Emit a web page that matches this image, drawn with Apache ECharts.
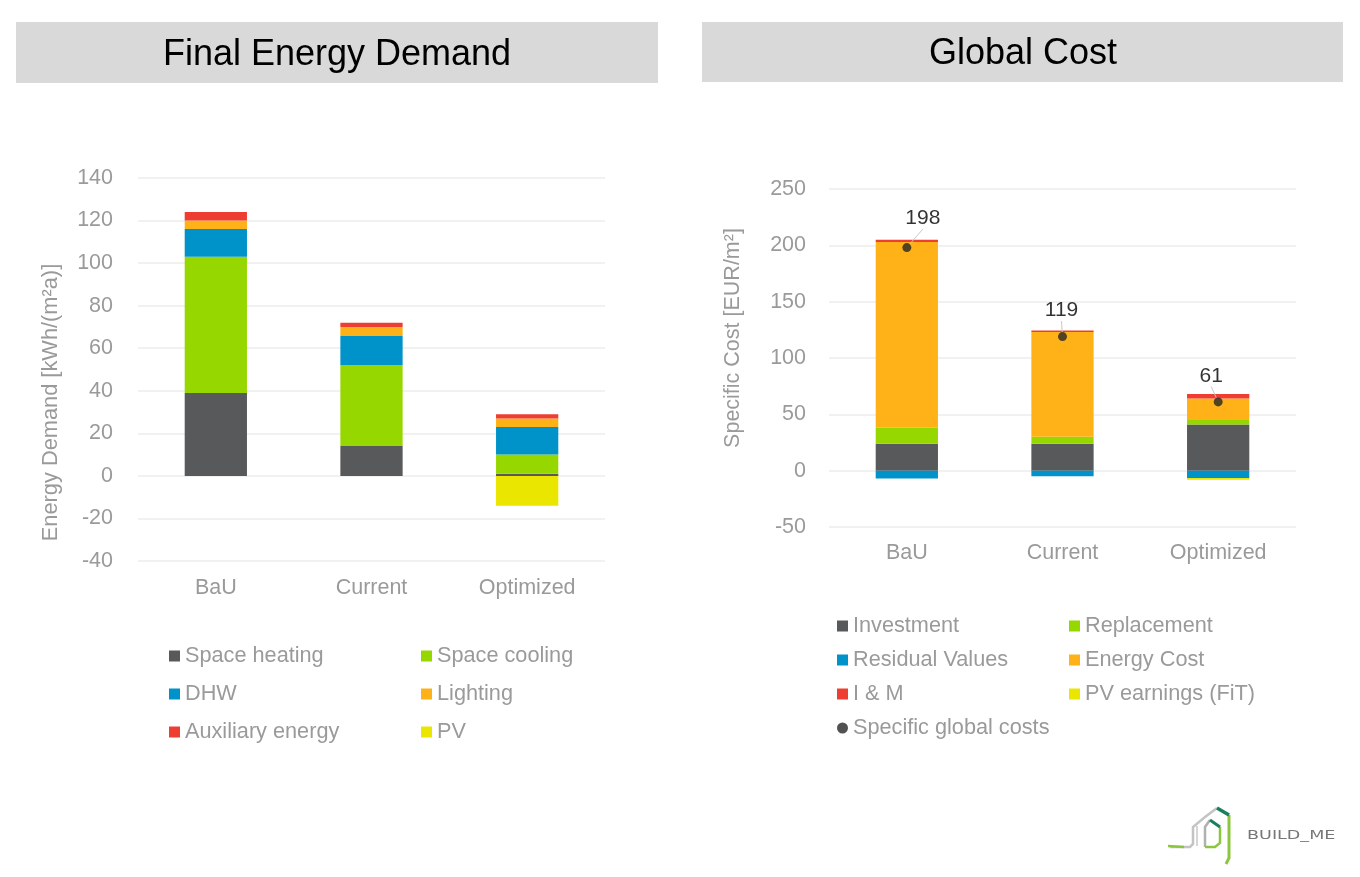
<!DOCTYPE html>
<html lang="en">
<head>
    <meta charset="UTF-8">
    <title>Final Energy Demand / Global Cost</title>
    <script src="https://cdn.jsdelivr.net/npm/echarts@6/dist/echarts.min.js"></script>
</head>
<style>
html,body{margin: 0;padding: 0;background: #fff}
#chartBox{width: 1360px;height: 877px}
</style>
<body>
    <div id="chartBox"></div>
</body>
<script>
const categories = ['BaU', 'Current', 'Optimized'];

// left chart, kWh/(m2a)
const spaceHeating = [39, 14, 1];
const spaceCooling = [64, 38, 9];
const dhw = [13, 14, 13];
const lighting = [4, 4, 4];
const auxiliaryEnergy = [4, 2, 2];
const pv = [0, 0, -14];

// right chart, EUR/m2
const investment = [24, 24, 41];
const replacement = [14, 6, 4];
const residualValues = [-7, -5, -6.5];
const energyCost = [165, 93, 19];
const iAndM = [2, 1.5, 4];
const pvEarnings = [0, 0, -1.5];
const globalCosts = [198, 119, 61];

const GREY = '#9a9a9a';
const FONT = '"Liberation Sans", Arial, sans-serif';
const COLORS = {dark: '#58595b', green: '#97d700', blue: '#0093c9', orange: '#ffb218', red: '#ee3e32', yellow: '#ebe600'};

function stackBar(name, data, color, xAxisIndex, yAxisIndex, stack){
    return {
        type: 'bar',
        name: name,
        data: data,
        stack: stack,
        xAxisIndex: xAxisIndex,
        yAxisIndex: yAxisIndex,
        barWidth: '40%',
        itemStyle: {color: color},
        emphasis: {disabled: true},
    };
}

function legendCol(left, top, names, gap){
    return {
        left: left,
        top: top,
        orient: 'vertical',
        padding: 0,
        itemWidth: 11,
        itemHeight: 11,
        itemGap: gap,
        icon: 'rect',
        selectedMode: false,
        textStyle: {color: GREY, fontSize: 21.7, fontFamily: FONT},
        data: names,
    };
}

const axisText = {color: GREY, fontSize: 21.5, fontFamily: FONT};
const titleText = {fontSize: 36, fontWeight: 'normal', color: '#000', fontFamily: FONT};
const gridLine = {lineStyle: {color: '#ececec', width: 1.5}};

const chartObj = echarts.init(document.getElementById('chartBox'));
chartObj.setOption({
    animation: false,
    backgroundColor: '#fff',
    title: [
        {text: 'Final Energy Demand', left: 337, top: 55, padding: 0, textAlign: 'center', textVerticalAlign: 'middle', textStyle: titleText},
        {text: 'Global Cost', left: 1023, top: 54, padding: 0, textAlign: 'center', textVerticalAlign: 'middle', textStyle: titleText},
    ],
    grid: [
        {left: 138, top: 178, width: 467, height: 383},
        {left: 829, top: 189, width: 467, height: 338},
    ],
    xAxis: [0, 1].map((i) => ({
        type: 'category',
        gridIndex: i,
        data: categories,
        axisLine: {show: false},
        axisTick: {show: false},
        axisLabel: Object.assign({}, axisText, {margin: 0}),
        position: 'bottom',
        offset: i === 0 ? 16 : 15,
    })),
    yAxis: [
        {
            type: 'value', gridIndex: 0, min: -40, max: 140, interval: 20,
            name: 'Energy Demand [kWh/(m²a)]', nameLocation: 'middle', nameGap: 76, nameRotate: 90,
            nameTextStyle: Object.assign({}, axisText, {fontSize: 21.8, padding: [0, 66, 0, 0]}),
            axisLabel: Object.assign({}, axisText, {margin: 25, padding: [7, 0, 0, 0]}),
            axisLine: {show: false}, axisTick: {show: false},
            splitLine: gridLine,
        },
        {
            type: 'value', gridIndex: 1, min: -50, max: 250, interval: 50,
            name: 'Specific Cost [EUR/m²]', nameLocation: 'middle', nameGap: 85, nameRotate: 90,
            nameTextStyle: Object.assign({}, axisText, {padding: [0, 0, 0, 40]}),
            axisLabel: Object.assign({}, axisText, {margin: 23, padding: [7, 0, 0, 0]}),
            axisLine: {show: false}, axisTick: {show: false},
            splitLine: gridLine,
        },
    ],
    legend: [
        legendCol(169, 645, ['Space heating', 'DHW', 'Auxiliary energy'], 16),
        legendCol(421, 645, ['Space cooling', 'Lighting', 'PV'], 16),
        legendCol(837, 615, ['Investment', 'Residual Values', 'I & M', {name: 'Specific global costs', icon: 'circle'}], 12),
        legendCol(1069, 615, ['Replacement', 'Energy Cost', 'PV earnings (FiT)'], 12),
    ],
    series: [
        stackBar('Space heating', spaceHeating, COLORS.dark, 0, 0, 'a'),
        stackBar('Space cooling', spaceCooling, COLORS.green, 0, 0, 'a'),
        stackBar('DHW', dhw, COLORS.blue, 0, 0, 'a'),
        stackBar('Lighting', lighting, COLORS.orange, 0, 0, 'a'),
        stackBar('Auxiliary energy', auxiliaryEnergy, COLORS.red, 0, 0, 'a'),
        stackBar('PV', pv, COLORS.yellow, 0, 0, 'a'),
        stackBar('Investment', investment, COLORS.dark, 1, 1, 'b'),
        stackBar('Replacement', replacement, COLORS.green, 1, 1, 'b'),
        stackBar('Residual Values', residualValues, COLORS.blue, 1, 1, 'b'),
        stackBar('Energy Cost', energyCost, COLORS.orange, 1, 1, 'b'),
        stackBar('I & M', iAndM, COLORS.red, 1, 1, 'b'),
        stackBar('PV earnings (FiT)', pvEarnings, COLORS.yellow, 1, 1, 'b'),
        {
            type: 'scatter',
            name: 'Specific global costs',
            xAxisIndex: 1,
            yAxisIndex: 1,
            data: globalCosts,
            symbol: 'circle',
            symbolSize: 9,
            z: 5,
            itemStyle: {color: '#262626'},
            label: {show: true, position: 'top', color: '#000', fontSize: 21, fontFamily: FONT},
            labelLayout: function(params){
                return [
                    {dx: 16, dy: -9},
                    {dx: -1, dy: -6},
                    {dx: -7, dy: -6},
                ][params.dataIndex];
            },
            labelLine: {show: true, lineStyle: {color: '#c8c8c8', width: 1}},
        },
    ],
    graphic: [
        {type: 'rect', z: -1, shape: {x: 16, y: 22, width: 642, height: 61}, style: {fill: '#d9d9d9'}},
        {type: 'rect', z: -1, shape: {x: 702, y: 22, width: 641, height: 60}, style: {fill: '#d9d9d9'}},
        // BUILD_ME logo
        {type: 'polyline', shape: {points: [[1170, 847], [1190, 847], [1193, 844], [1193, 827], [1205, 817], [1217, 808]]},
            style: {stroke: '#c4c4c4', lineWidth: 2.5, fill: 'none'}},
        {type: 'polyline', shape: {points: [[1197, 826], [1197, 846]]}, style: {stroke: '#d6d6d6', lineWidth: 2, fill: 'none'}},
        {type: 'polyline', shape: {points: [[1168, 846], [1184, 847]]}, style: {stroke: '#8cc63f', lineWidth: 2.5, fill: 'none'}},
        {type: 'polyline', shape: {points: [[1205, 847], [1205, 827], [1210, 820]]}, style: {stroke: '#b0b0b0', lineWidth: 2.5, fill: 'none'}},
        {type: 'polyline', shape: {points: [[1205, 847], [1215, 847], [1220, 843], [1220, 827]]}, style: {stroke: '#8cc63f', lineWidth: 2.5, fill: 'none'}},
        {type: 'polyline', shape: {points: [[1210, 820], [1220, 827]]}, style: {stroke: '#1a7f5f', lineWidth: 3, fill: 'none'}},
        {type: 'polyline', shape: {points: [[1229, 815], [1229, 858], [1226, 864]]}, style: {stroke: '#8cc63f', lineWidth: 3, fill: 'none'}},
        {type: 'polyline', shape: {points: [[1217, 808], [1229, 815]]}, style: {stroke: '#1a7f5f', lineWidth: 3.5, fill: 'none'}},
        {type: 'text', x: 1247, y: 829, scaleX: 1.35, style: {x: 0, y: 0, text: 'BUILD_ME', fill: '#777', font: '13px "DejaVu Sans"'}},
    ],
});
</script>
</html>
